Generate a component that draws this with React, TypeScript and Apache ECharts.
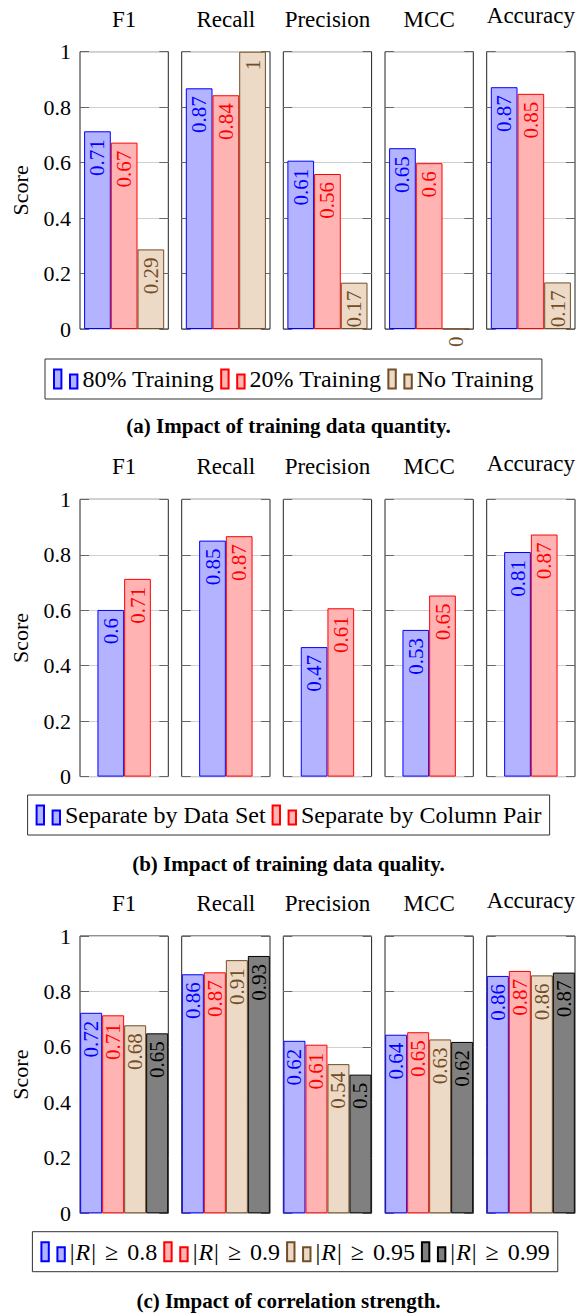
import React, { useEffect, useRef } from "react";
import * as echarts from "echarts";

// ---------- data ----------
const metrics = ["F1", "Recall", "Precision", "MCC", "Accuracy"];
const yTickMin = 0;
const yTickMax = 1;
const yTickStep = 0.2;

// (a) training data quantity
const quantityNames = ["80% Training", "20% Training", "No Training"];
const quantity80 = [0.713, 0.868, 0.607, 0.652, 0.872];
const quantity20 = [0.672, 0.843, 0.559, 0.598, 0.848];
const quantityNone = [0.287, 1.0, 0.167, 0.0, 0.168];

// (b) training data quality
const qualityNames = ["Separate by Data Set", "Separate by Column Pair"];
const qualityDataSet = [0.601, 0.851, 0.467, 0.529, 0.81];
const qualityColumnPair = [0.713, 0.867, 0.607, 0.653, 0.873];

// (c) correlation strength
const strengthNames = ["|R| ≥ 0.8", "|R| ≥ 0.9", "|R| ≥ 0.95", "|R| ≥ 0.99"];
const strength08 = [0.723, 0.862, 0.622, 0.644, 0.856];
const strength09 = [0.714, 0.869, 0.608, 0.653, 0.874];
const strength095 = [0.678, 0.913, 0.538, 0.627, 0.858];
const strength099 = [0.649, 0.928, 0.5, 0.618, 0.868];

const captions = [
  "(a) Impact of training data quantity.",
  "(b) Impact of training data quality.",
  "(c) Impact of correlation strength.",
];

// ---------- styles / layout ----------
const FONT = "'Liberation Serif', 'Times New Roman', serif";
const seriesStyles = [
  { fill: "#b3b3ff", stroke: "#0000ff" },
  { fill: "#ffb3b3", stroke: "#ff0000" },
  { fill: "#ecd9c6", stroke: "#734d26" },
  { fill: "#808080", stroke: "#000000" },
];
const boxLefts = [80, 181.7, 283.3, 385, 486.7];
const boxWidth = 88.3;
const boxHeight = 277.3;

const panels = [
  {
    names: quantityNames,
    values: [quantity80, quantity20, quantityNone],
    barWidth: 26.7,
    top: 51.7,
    legendTop: 359,
    legendLeft: 45,
    captionTop: 410,
  },
  {
    names: qualityNames,
    values: [qualityDataSet, qualityColumnPair],
    barWidth: 26.7,
    top: 499.3,
    legendTop: 795,
    legendLeft: 27.6,
    captionTop: 848,
  },
  {
    names: strengthNames,
    values: [strength08, strength09, strength095, strength099],
    barWidth: 22,
    top: 936,
    legendTop: 1231.7,
    legendLeft: 32.4,
    captionTop: 1285,
  },
];

function buildOption() {
  const grid: any[] = [];
  const xAxis: any[] = [];
  const yAxis: any[] = [];
  const series: any[] = [];
  const legend: any[] = [];
  const title: any[] = [];

  panels.forEach((panel, p) => {
    metrics.forEach((metric, m) => {
      const gi = p * metrics.length + m;
      grid.push({
        left: boxLefts[m],
        top: panel.top,
        width: boxWidth,
        height: boxHeight,
        show: true,
        borderColor: "#222",
        borderWidth: 1,
        backgroundColor: "transparent",
      });
      xAxis.push({
        type: "category",
        gridIndex: gi,
        data: [metric],
        position: "top",
        axisLine: { show: false },
        axisTick: { show: false },
        axisLabel: { show: false },
        name: metric,
        nameLocation: "middle",
        nameGap: metric === "Accuracy" ? 24.5 : 21,
        nameTextStyle: { fontSize: 23, fontFamily: FONT, color: "#000" },
      });
      yAxis.push({
        type: "value",
        gridIndex: gi,
        min: yTickMin,
        max: yTickMax,
        interval: yTickStep,
        position: "left",
        axisLine: { show: false },
        axisTick: { show: true, inside: true, length: 9, lineStyle: { color: "#666" } },
        axisLabel: {
          show: m === 0,
          fontSize: 22,
          fontFamily: FONT,
          color: "#000",
          margin: 9,
        },
        splitLine: { show: true, lineStyle: { color: "#cfcfcf", width: 1 } },
        name: m === 0 ? "Score" : "",
        nameLocation: "middle",
        nameGap: 49,
        nameTextStyle: { fontSize: 22, fontFamily: FONT, color: "#000" },
      });
      yAxis.push({
        type: "value",
        gridIndex: gi,
        min: yTickMin,
        max: yTickMax,
        interval: yTickStep,
        position: "right",
        axisLine: { show: false },
        axisTick: { show: true, inside: true, length: 9, lineStyle: { color: "#666" } },
        axisLabel: { show: false },
        splitLine: { show: false },
      });
      panel.values.forEach((vals, s) => {
        const st = seriesStyles[s];
        series.push({
          type: "bar",
          name: panel.names[s],
          xAxisIndex: gi,
          yAxisIndex: gi * 2,
          data: [vals[m]],
          barWidth: panel.barWidth,
          barGap: "0%",
          itemStyle: { color: st.fill, borderColor: st.stroke, borderWidth: 1 },
          label: {
            show: true,
            position: "insideTop",
            rotate: 90,
            align: "right",
            verticalAlign: "middle",
            distance: 8,
            color: st.stroke,
            fontSize: 21,
            fontFamily: FONT,
            formatter: (q: any) => String(Math.round(q.value * 100) / 100),
          },
          emphasis: { disabled: true },
        });
      });
    });

    legend.push({
      data: panel.names,
      left: panel.legendLeft,
      top: panel.legendTop,
      orient: "horizontal",
      icon: "path://M0 0H7.4V19H0Z M16 5H23.4V19H16Z",
      itemWidth: 23.4,
      itemHeight: 19,
      itemGap: 6,
      padding: [8, 8, 8, 8],
      borderColor: "#333",
      borderWidth: 1,
      selectedMode: false,
      formatter:
        p === 2
          ? (name: string) => name.replace("R", "{i|R}").replace(" ≥ ", "{g|≥}")
          : undefined,
      textStyle: {
        fontSize: 24,
        fontFamily: FONT,
        color: "#000",
        rich: {
          i: { fontSize: 24, fontFamily: FONT, fontStyle: "italic", color: "#000", padding: [0, 1, 0, 1] },
          g: { fontSize: 24, fontFamily: FONT, color: "#000", padding: [0, 9, 0, 9] },
        },
      },
    });

    title.push({
      text: captions[p],
      left: "center",
      top: panel.captionTop,
      textStyle: { fontSize: 21, fontFamily: FONT, fontWeight: "bold", color: "#000" },
    });
  });

  return {
    animation: false,
    backgroundColor: "#ffffff",
    title,
    grid,
    xAxis,
    yAxis,
    series,
    legend,
  };
}

export default function App() {
  const ref = useRef<HTMLDivElement>(null);
  useEffect(() => {
    if (!ref.current) return;
    const chart = echarts.init(ref.current, undefined, { renderer: "svg" });
    chart.setOption(buildOption() as any);
    return () => chart.dispose();
  }, []);
  return (
    <div
      ref={ref}
      style={{ position: "absolute", left: 0, top: 0, width: 577, height: 1314 }}
    />
  );
}
